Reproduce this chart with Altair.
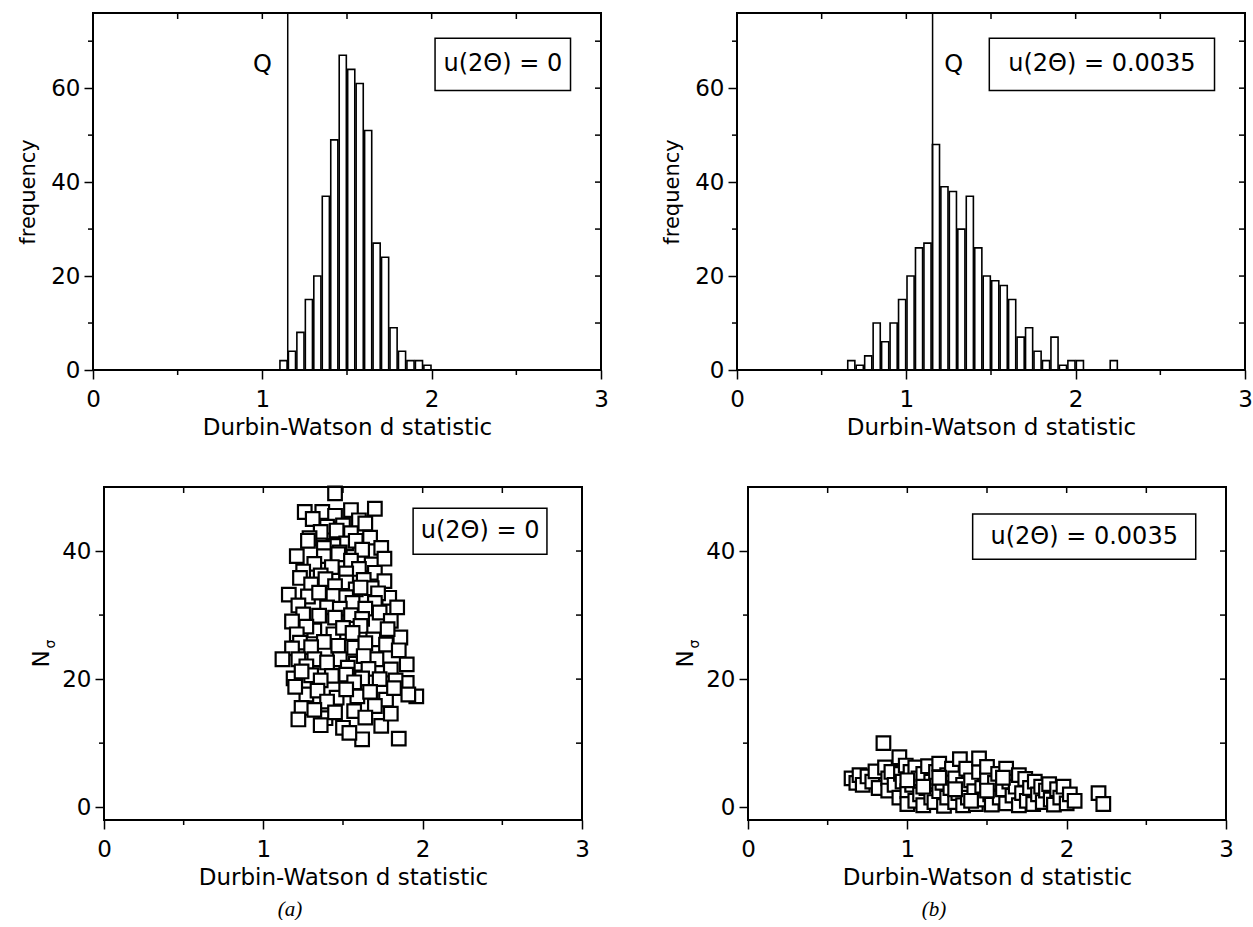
import altair as alt
import pandas as pd

# ---------------- data ----------------
# (a) histogram, u(2Theta)=0 : bin centres and frequencies (bin width 0.05)
tl_bin_center = [1.125, 1.175, 1.225, 1.275, 1.325, 1.375, 1.425, 1.475, 1.525,
                 1.575, 1.625, 1.675, 1.725, 1.775, 1.825, 1.875, 1.925, 1.975]
tl_freq = [2, 4, 8, 15, 20, 37, 49, 67, 64, 61, 51, 27, 24, 9, 4, 2, 2, 1]

# (b) histogram, u(2Theta)=0.0035
tr_bin_center = [0.675, 0.725, 0.775, 0.825, 0.875, 0.925, 0.975, 1.025, 1.075,
                 1.125, 1.175, 1.225, 1.275, 1.325, 1.375, 1.425, 1.475, 1.525,
                 1.575, 1.625, 1.675, 1.725, 1.775, 1.825, 1.875, 1.925, 1.975,
                 2.025, 2.225]
tr_freq = [2, 1, 3, 10, 6, 10, 15, 20, 26, 27, 48, 39, 38, 30, 37, 26, 20, 19,
           18, 15, 7, 9, 4, 2, 7, 1, 2, 2, 2]

q_left = 1.15
q_right = 1.155

# (a) scatter: Durbin-Watson d vs N_sigma
bl_d = [1.45, 1.26, 1.37, 1.45, 1.55, 1.70, 1.31, 1.60, 1.64, 1.50, 1.40, 1.36, 1.46,
        1.55, 1.67, 1.29, 1.52, 1.44, 1.28, 1.58, 1.38, 1.62, 1.74, 1.48, 1.21, 1.38,
        1.47, 1.55, 1.68, 1.76, 1.32, 1.43, 1.60, 1.25, 1.52, 1.70, 1.36, 1.23, 1.39,
        1.52, 1.63, 1.76, 1.30, 1.45, 1.58, 1.68, 1.16, 1.28, 1.44, 1.61, 1.79, 1.35,
        1.52, 1.72, 1.56, 1.70, 1.22, 1.40, 1.48, 1.64, 1.84, 1.25, 1.35, 1.45, 1.73,
        1.80, 1.55, 1.62, 1.18, 1.32, 1.44, 1.61, 1.69, 1.86, 1.50, 1.27, 1.56, 1.78,
        1.21, 1.23, 1.57, 1.77, 1.38, 1.47, 1.30, 1.64, 1.85, 1.18, 1.12, 1.22, 1.32,
        1.48, 1.71, 1.80, 1.40, 1.58, 1.63, 1.90, 1.27, 1.53, 1.66, 1.19, 1.43, 1.52,
        1.62, 1.90, 1.96, 1.30, 1.36, 1.73, 1.83, 1.57, 1.24, 1.27, 1.46, 1.59, 1.77,
        1.91, 1.34, 1.40, 1.52, 1.67, 1.70, 1.82, 1.20, 1.24, 1.39, 1.50, 1.62, 1.74,
        1.85, 1.22, 1.54, 1.32, 1.45, 1.57, 1.64, 1.80, 1.36]
bl_n = [49.0, 46.1, 46.1, 45.5, 46.4, 46.6, 45.0, 44.8, 44.3, 44.0, 43.8, 43.0, 43.2,
        42.8, 42.1, 42.0, 41.2, 40.8, 41.6, 41.6, 40.5, 40.2, 40.5, 39.8, 39.2, 39.2,
        39.5, 38.5, 37.9, 38.8, 38.0, 37.5, 37.2, 36.8, 36.5, 36.6, 36.2, 35.8, 35.6,
        35.1, 35.5, 35.3, 34.8, 34.5, 34.0, 34.2, 33.2, 32.9, 33.0, 34.3, 32.7, 33.5,
        32.8, 33.4, 31.9, 31.9, 31.5, 31.2, 31.0, 31.0, 31.2, 30.1, 29.9, 29.6, 30.4,
        29.1, 30.0, 29.4, 29.0, 27.6, 27.0, 28.3, 26.2, 26.5, 28.0, 28.2, 27.2, 27.8,
        27.0, 25.7, 24.9, 25.4, 25.8, 25.2, 25.0, 25.6, 24.5, 24.8, 23.1, 23.1, 23.1,
        23.1, 23.1, 21.5, 22.6, 22.4, 23.6, 22.3, 22.0, 21.8, 21.6, 20.1, 20.5, 20.7,
        20.1, 19.4, 17.3, 20.6, 19.8, 20.0, 19.8, 19.5, 21.2, 17.6, 17.1, 17.3, 16.8,
        17.6, 18.2, 16.5, 18.4, 18.0, 15.8, 18.6, 18.8, 15.5, 13.9, 12.4, 10.6, 12.7,
        10.7, 13.7, 11.6, 15.2, 14.8, 15.0, 14.0, 14.6, 12.8]

# (b) scatter
br_d = [0.65, 0.68, 0.70, 0.72, 0.75, 0.78, 0.80, 0.82, 0.85, 0.86, 0.88, 0.88, 0.90,
        0.92, 0.95, 0.95, 0.96, 0.97, 0.99, 1.00, 1.00, 1.02, 1.03, 1.05, 1.05, 1.07,
        1.08, 1.10, 1.10, 1.12, 1.13, 1.15, 1.15, 1.17, 1.18, 1.20, 1.20, 1.22, 1.23,
        1.25, 1.25, 1.27, 1.28, 1.30, 1.30, 1.32, 1.33, 1.35, 1.35, 1.37, 1.38, 1.40,
        1.42, 1.43, 1.45, 1.45, 1.47, 1.48, 1.50, 1.50, 1.52, 1.53, 1.55, 1.57, 1.58,
        1.60, 1.62, 1.62, 1.64, 1.66, 1.68, 1.70, 1.70, 1.72, 1.74, 1.75, 1.77, 1.79,
        1.80, 1.82, 1.84, 1.85, 1.87, 1.89, 1.90, 1.92, 1.94, 1.96, 1.98, 2.00, 2.02,
        2.05, 2.20, 2.23, 1.00, 1.10, 1.20, 1.30, 1.40, 1.60, 1.50]
br_n = [4.5, 3.8, 5.0, 3.5, 4.8, 4.0, 5.6, 3.0, 10.0, 6.2, 4.5, 2.6, 5.5,
        3.5, 7.8, 1.5, 5.2, 4.0, 6.5, 2.5, 0.5, 5.5, 3.5, 1.0, 6.2, 4.5,
        2.0, 0.3, 5.2, 3.0, 6.4, 1.5, 4.0, 0.8, 5.5, 2.5, 6.8, 3.8, 0.2,
        5.0, 1.5, 3.0, 6.0, 0.8, 4.5, 2.2, 7.5, 0.3, 3.5, 6.0, 1.5, 4.2,
        2.5, 0.5, 5.5, 7.6, 3.0, 1.2, 4.5, 6.3, 2.0, 0.4, 3.8, 5.2, 1.5,
        2.8, 6.0, 0.6, 4.0, 1.8, 3.2, 5.0, 0.3, 2.2, 4.4, 1.0, 3.0, 0.5,
        4.0, 2.0, 3.2, 0.8, 2.6, 3.6, 1.2, 0.4, 2.8, 1.5, 3.2, 0.6, 2.0,
        1.0, 2.2, 0.5, 4.2, 3.2, 4.6, 2.8, 1.0, 4.6, 2.6]

x_major = [0, 1, 2, 3]
x_minor = [0.5, 1.5, 2.5]
top_y_major = [0, 20, 40, 60]
top_y_minor = [10, 30, 50, 70]
bot_y_major = [0, 20, 40]
bot_y_minor = [10, 30]
label_zero = "u(2\u0398) = 0"
label_b = "u(2\u0398) = 0.0035"

# ---------------- styling ----------------
FONT = "DejaVu Sans"
CELL_W = 508
H_TOP = 357
H_BOT = 333
BOT_L, BOT_R = 11, 489          # inner plot area of the lower panels (pixels in cell)
HALF_BAR = 0.021
TICK_FONT = 23
BOX_FONT = 24
MAJOR, MINOR, INNER = 9, 5, 6

XS_TOP = alt.Scale(domain=[0, 3], nice=False, zero=False)
XS_BOT = alt.Scale(domain=[0, 3], nice=False, zero=False, range=[BOT_L, BOT_R])
YS_TOP = alt.Scale(domain=[0, 76], nice=False, zero=False)
YS_BOT = alt.Scale(domain=[-2, 50], nice=False, zero=False)

X_AXIS = alt.Axis(values=x_major, format="d",
                  title="Durbin-Watson d statistic", tickSize=MAJOR,
                  labelPadding=9, titlePadding=5,
                  labelFlush=False, labelOverlap=False)
Y_AXIS_TOP = alt.Axis(values=top_y_major, format="d",
                      title="frequency", titleFontSize=21,
                      tickSize=MAJOR, labelPadding=4, titlePadding=12,
                      labelFlush=False, labelOverlap=False)
Y_AXIS_BOT = alt.Axis(values=bot_y_major, format="d",
                      title="", tickSize=MAJOR, labelPadding=4, offset=-BOT_L,
                      labelFlush=False, labelOverlap=False)


def X(field, top):
    return alt.X(field, type="quantitative", scale=XS_TOP if top else XS_BOT, axis=X_AXIS)


def Y(field, top):
    if top:
        return alt.Y(field, type="quantitative", scale=YS_TOP, axis=Y_AXIS_TOP)
    return alt.Y(field, type="quantitative", scale=YS_BOT, axis=Y_AXIS_BOT)


ONE = pd.DataFrame({"k": [0]})


def rule_x(vals, top, y0, y1):
    return alt.Chart(pd.DataFrame({"t": vals})).mark_rule(
        color="black", strokeWidth=1.5).encode(
        x=X("t", top), y=alt.value(y0), y2=alt.value(y1))


def rule_y(vals, top, x0, x1):
    return alt.Chart(pd.DataFrame({"t": vals})).mark_rule(
        color="black", strokeWidth=1.5).encode(
        y=Y("t", top), x=alt.value(x0), x2=alt.value(x1))


def frame(x0, x1, h):
    return alt.Chart(ONE).mark_rect(fill="white", fillOpacity=0, stroke="black",
                                    strokeWidth=2).encode(
        x=alt.value(x0), x2=alt.value(x1), y=alt.value(0), y2=alt.value(h))


def ticks(top, left, right, h, ymajor, yminor):
    xall = x_major[1:-1] + x_minor
    yall = [v for v in ymajor + yminor if v > 0]
    return [
        rule_x(x_minor, top, h, h + MINOR),            # outer minor ticks, bottom
        rule_y(yminor, top, left - MINOR, left),       # outer minor ticks, left
        rule_x(xall, top, 0, INNER),                   # inner ticks, top edge
        rule_y(yall, top, right - INNER, right),       # inner ticks, right edge
    ]


def legend_box(x0, x1, y0, y1, text, top):
    box = alt.Chart(pd.DataFrame({"a": [x0], "b": [x1], "c": [y0], "d": [y1]})).mark_rect(
        fill="white", stroke="black", strokeWidth=1.5).encode(
        x=X("a", top), x2="b", y=Y("c", top), y2="d")
    txt = alt.Chart(pd.DataFrame({"a": [(x0 + x1) / 2], "c": [(y0 + y1) / 2]})).mark_text(
        text=text, font=FONT, fontSize=BOX_FONT, color="black",
        align="center", baseline="middle").encode(x=X("a", top), y=Y("c", top))
    return [box, txt]


def hist_panel(centers, freqs, q, qx, box):
    df = pd.DataFrame({"c": centers, "f": freqs})
    df["lo"] = df["c"] - HALF_BAR
    df["hi"] = df["c"] + HALF_BAR
    df["base"] = 0
    bars = alt.Chart(df).mark_rect(fill="white", stroke="black", strokeWidth=1.6).encode(
        x=X("lo", True), x2="hi", y=Y("f", True), y2="base")
    qrule = alt.Chart(pd.DataFrame({"lo": [q]})).mark_rule(
        color="black", strokeWidth=1.5).encode(x=X("lo", True))
    qtext = alt.Chart(pd.DataFrame({"lo": [qx], "f": [65]})).mark_text(
        text="Q", font=FONT, fontSize=BOX_FONT, color="black",
        align="center", baseline="middle").encode(x=X("lo", True), y=Y("f", True))
    layers = [bars, qrule, qtext] + legend_box(*box, True) + \
        ticks(True, 0, CELL_W, H_TOP, top_y_major, top_y_minor) + \
        [frame(0, CELL_W, H_TOP)]
    return alt.layer(*layers).properties(width=CELL_W, height=H_TOP)


def scatter_panel(d, n, box, caption):
    df = pd.DataFrame({"d": d, "n": n})
    pts = alt.Chart(df).mark_point(shape="square", filled=True, fill="white",
                                   stroke="black", strokeWidth=2.2, size=185,
                                   opacity=1).encode(x=X("d", False), y=Y("n", False))
    n_lab = alt.Chart(ONE).mark_text(text="N", font=FONT, fontSize=TICK_FONT,
                                     angle=270, color="black", align="center",
                                     baseline="middle").encode(
        x=alt.value(BOT_L - 62), y=alt.value(172))
    s_lab = alt.Chart(ONE).mark_text(text="\u03c3", font=FONT, fontSize=14,
                                     angle=270, color="black", align="center",
                                     baseline="middle").encode(
        x=alt.value(BOT_L - 53), y=alt.value(157))
    cap = alt.Chart(ONE).mark_text(text=caption, font="Liberation Serif",
                                   fontStyle="italic", fontSize=21, color="black",
                                   align="center", baseline="middle").encode(
        x=alt.value(BOT_L + 186), y=alt.value(H_BOT + 90))
    layers = [pts] + legend_box(*box, False) + \
        ticks(False, BOT_L, BOT_R, H_BOT, bot_y_major, bot_y_minor) + \
        [frame(BOT_L, BOT_R, H_BOT), n_lab, s_lab, cap]
    return alt.layer(*layers).properties(width=CELL_W, height=H_BOT)


tl = hist_panel(tl_bin_center, tl_freq, q_left, 1.0, (2.02, 2.82, 59.5, 70.6, label_zero))
tr = hist_panel(tr_bin_center, tr_freq, q_right, 1.28, (1.49, 2.82, 59.5, 70.6, label_b))
bl = scatter_panel(bl_d, bl_n, (1.94, 2.78, 39.5, 46.7, label_zero), "(a)")
br = scatter_panel(br_d, br_n, (1.41, 2.81, 38.7, 45.8, label_b), "(b)")

chart = alt.concat(tl, tr, bl, br, columns=2,
                   spacing={"row": 117, "column": 136},
                   bounds="flush").properties(
    padding={"left": 17, "top": 12, "right": 0, "bottom": 0},
    background="white"
).configure_view(strokeWidth=0, stroke=None).configure_axis(
    labelFont=FONT, titleFont=FONT, labelFontSize=TICK_FONT, titleFontSize=TICK_FONT,
    titleFontWeight="normal", labelColor="black", titleColor="black",
    tickColor="black", tickWidth=1.5, domain=False, grid=False)

chart.save("out.html", embed_options={"renderer": "svg", "actions": False})
